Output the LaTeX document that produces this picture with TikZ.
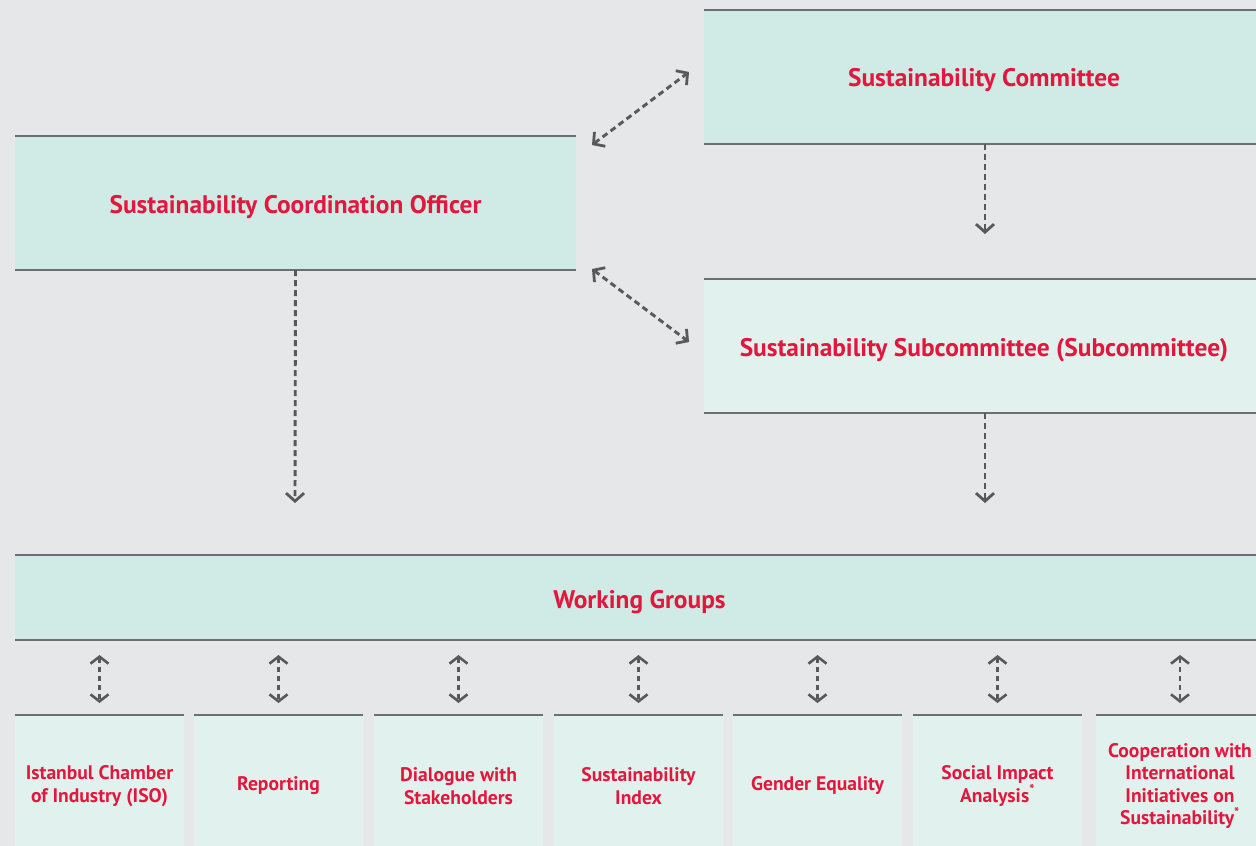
\documentclass[tikz,border=0pt]{standalone}
\usepackage{fontspec}
\setmainfont{PT Sans}
\usetikzlibrary{arrows.meta,calc}
\definecolor{bg}{HTML}{E6E7E9}
\definecolor{tealdk}{HTML}{D0EAE6}
\definecolor{teallt}{HTML}{E1F1EE}
\definecolor{txtred}{HTML}{E3173D}
\definecolor{rule}{HTML}{6D6E71}
\definecolor{arr}{HTML}{58595B}
\tikzset{
  box/.style={rectangle, inner sep=0pt, outer sep=0pt, align=center, text=txtred, font=\bfseries\fontsize{25.4}{28}\selectfont},
  smallbox/.style={box, fill=teallt, minimum width=169pt, minimum height=142pt, font=\bfseries\fontsize{19.6}{22.6}\selectfont},
  rl/.style={draw=rule, line width=1.3pt},
  conn/.style={draw=arr, line width=2.9pt, dash pattern=on 6pt off 4pt, {Straight Barb[length=8pt,width=18pt,line width=2.8pt]}-{Straight Barb[length=8pt,width=18pt,line width=2.8pt]}},
  conn1/.style={draw=arr, line width=2.9pt, dash pattern=on 6pt off 4pt, -{Straight Barb[length=8pt,width=18pt,line width=2.8pt]}},
  sconn/.style={draw=arr, line width=2.6pt, dash pattern=on 5pt off 4pt, {Straight Barb[length=7pt,width=18pt,line width=2.6pt]}-{Straight Barb[length=7pt,width=18pt,line width=2.6pt]}, shorten <=15pt, shorten >=12pt},
}
\begin{document}
\begin{tikzpicture}[x=1pt,y=-1pt]
\useasboundingbox (0,0) rectangle (1256,846);
\clip (0,0) rectangle (1256,846);
\fill[bg] (0,0) rectangle (1256,846);
% top boxes
\node[box, fill=tealdk, minimum width=561pt, minimum height=134pt] (off) at (295.5,203) {};
\node[box, fill=tealdk, minimum width=560pt, minimum height=134pt] (com) at (984,77) {};
\node[box, fill=teallt, minimum width=560pt, minimum height=134pt] (sub) at (984,346) {};
\node[box, fill=tealdk, minimum width=1249pt, minimum height=85pt] (wg) at (639.5,597.5) {};
\node[box] (offt) at (295.5,207) {Sustainability Coordination Officer};
\node[box] (comt) at (984,80) {Sustainability Committee};
\node[box] (subt) at (984,350) {Sustainability Subcommittee (Subcommittee)};
\node[box] (wgt) at (639.5,602) {Working Groups};
\foreach \n in {off,com,sub,wg}{
  \draw[rl] (\n.north west) -- (\n.north east);
  \draw[rl] (\n.south west) -- (\n.south east);
}
% bottom boxes
\node[smallbox] (b1) at (99.5,786) {Istanbul Chamber\\of Industry (ISO)};
\node[smallbox] (b2) at (278.5,786) {Reporting};
\node[smallbox] (b3) at (458.5,786) {Dialogue with\\Stakeholders};
\node[smallbox] (b4) at (638.5,786) {Sustainability\\Index};
\node[smallbox] (b5) at (817.5,786) {Gender Equality};
\node[smallbox] (b6) at (997.5,786) {Social Impact\\Analysis\textsuperscript{*}};
\node[smallbox] (b7) at (1180,786) {Cooperation with\\International\\Initiatives on\\Sustainability\textsuperscript{*}};
\foreach \n in {b1,b2,b3,b4,b5,b6,b7}{
  \draw[rl] (\n.north west) -- (\n.north east);
  \draw[sconn] (\n.north |- wg.south) -- (\n.north);
}
% connectors
\coordinate (d1a) at (592,145);
\coordinate (d1b) at (689,72);
\coordinate (d2a) at (592,269);
\coordinate (d2b) at (689,342);
\coordinate (offend) at (295,503);
\coordinate (comend) at (985,234);
\coordinate (subend) at (985,503);
\draw[conn] (d1a) -- (d1b);
\draw[conn] (d2a) -- (d2b);
\draw[conn1] (off.south) -- (offend);
\draw[conn1] (com.south -| comend) -- (comend);
\draw[conn1] (sub.south -| subend) -- (subend);
\end{tikzpicture}
\end{document}
